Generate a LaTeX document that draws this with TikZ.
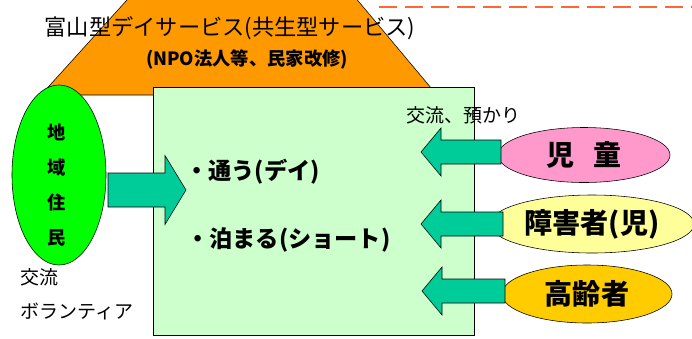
\documentclass[tikz,border=0pt]{standalone}
\usepackage{fontspec}
\newfontfamily\jp{Noto Sans CJK JP}
\usetikzlibrary{shapes.geometric}
\usetikzlibrary{positioning}

\definecolor{roofOrange}{HTML}{FF9900}
\definecolor{houseGreen}{HTML}{CCFFCC}
\definecolor{localGreen}{HTML}{00FF00}
\definecolor{arrowTeal}{HTML}{00CC99}
\definecolor{childPink}{HTML}{FF99CC}
\definecolor{disabledYellow}{HTML}{FFFF99}
\definecolor{elderGold}{HTML}{FFCC00}
\definecolor{dashRed}{HTML}{FF6633}

\begin{document}
\begin{tikzpicture}[x=0.025cm, y=-0.025cm,
    roundnode/.style={ellipse, draw=black, thin, inner sep=0pt, font=\jp\bfseries\fontsize{20}{24}\selectfont},
    blockarrow/.style={draw=black, thin, fill=arrowTeal},
    jptext/.style={inner sep=0pt, font=\jp\fontsize{14}{17}\selectfont}
]
    \useasboundingbox (0,0) rectangle (692,338);
    \clip (0,0) rectangle (692,338);
    % Roof and house
    % - [Fig: roof]
    \draw [thin, fill=roofOrange] (41,95) -- (437,95) -- (349,-10) -- (136,-10) -- cycle;
    \draw [dashRed, line width=1.2pt, dash pattern=on 0.45cm off 0.2cm] (380,-20) rectangle (720,7);
    % - [Fig: house]
    \node at (313.5,211) [draw, thin, fill=houseGreen, minimum width=8.025cm, minimum height=6.2cm, inner sep=0pt](house){};
    
    % Local residents
    \node at (59,175) [roundnode, fill=localGreen, minimum width=2.35cm, minimum height=4.5cm](local){};
    \node at (57,185) [jptext, align=center, font=\jp\bfseries\fontsize{13}{25}\selectfont](localtext){地\\域\\住\\民};
    % -- Arrow into the house
    \coordinate (tipL) at (186,190);
    \draw [blockarrow] (tipL) -- ++(-21,-34.5) -- ++(0,17.5) -- ++(-57,0) -- ++(0,34) -- ++(57,0) -- ++(0,17.5) -- cycle;
    
    % Users
    \node at (584,155) [roundnode, fill=childPink, minimum width=4.3cm, minimum height=1.375cm](child){児\hspace{0.7em}童};
    \node at (592,224) [roundnode, fill=disabledYellow, minimum width=5.1cm, minimum height=1.45cm](disabled){障害者(児)};
    \node at (587,294) [roundnode, fill=elderGold, minimum width=4.25cm, minimum height=1.45cm](elder){高齢者};
    % -- Arrows into the house
    \coordinate (tipA) at (421,152);
    \coordinate (tipB) at (421,224);
    \coordinate (tipC) at (422,291);
    \draw [blockarrow] (tipA) -- ++(20,-24) -- ++(0,12) -- ++(60,0) -- ++(0,24) -- ++(-60,0) -- ++(0,12) -- cycle;
    \draw [blockarrow] (tipB) -- ++(20,-24) -- ++(0,12) -- ++(62,0) -- ++(0,24) -- ++(-62,0) -- ++(0,12) -- cycle;
    \draw [blockarrow] (tipC) -- ++(20,-24) -- ++(0,12) -- ++(63,0) -- ++(0,24) -- ++(-63,0) -- ++(0,12) -- cycle;
    
    % - [Texts]
    \node at (230,28) [jptext, font=\jp\fontsize{15.8}{18}\selectfont](title){富山型デイサービス(共生型サービス)};
    \node at (247,59) [jptext, font=\jp\bfseries\fontsize{13}{16}\selectfont](subtitle){(NPO法人等、民家改修)};
    \node at (185,172) [jptext, anchor=west, font=\jp\bfseries\fontsize{16.5}{19}\selectfont](day){・通う(デイ)};
    \node at (186,240) [jptext, anchor=west, font=\jp\bfseries\fontsize{16.5}{19}\selectfont](short){・泊まる(ショート)};
    \node at (406,115) [jptext, anchor=west, font=\jp\fontsize{13.5}{16}\selectfont](exchange){交流、預かり};
    \node at (20,277) [jptext, anchor=west, font=\jp\fontsize{13.5}{16}\selectfont](localexchange){交流};
    \node at (20,311) [jptext, anchor=west, font=\jp\fontsize{13.5}{16}\selectfont](volunteer){ボランティア};
\end{tikzpicture}
\end{document}
